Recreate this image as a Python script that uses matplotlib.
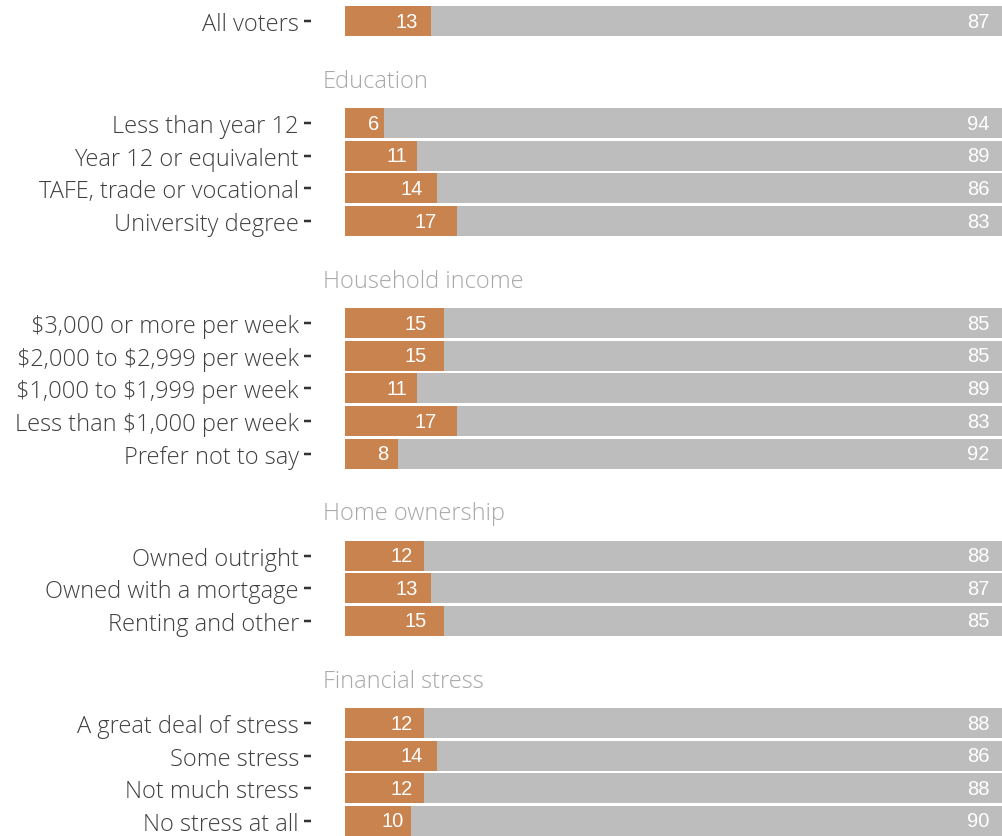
import matplotlib
matplotlib.use('Agg')
import matplotlib.pyplot as plt

# data
groups = ['', 'Education', 'Household income', 'Home ownership', 'Financial stress']
labels = [
    ['All voters'],
    ['Less than year 12', 'Year 12 or equivalent', 'TAFE, trade or vocational', 'University degree'],
    ['$3,000 or more per week', '$2,000 to $2,999 per week', '$1,000 to $1,999 per week',
     'Less than $1,000 per week', 'Prefer not to say'],
    ['Owned outright', 'Owned with a mortgage', 'Renting and other'],
    ['A great deal of stress', 'Some stress', 'Not much stress', 'No stress at all'],
]
yes_vals = [
    [13],
    [6, 11, 14, 17],
    [15, 15, 11, 17, 8],
    [12, 13, 15],
    [12, 14, 12, 10],
]
no_vals = [
    [87],
    [94, 89, 86, 83],
    [85, 85, 89, 83, 92],
    [88, 87, 85],
    [88, 86, 88, 90],
]

orange = '#C8834F'
grey = '#BDBDBD'
plt.rcParams['font.family'] = ['Open Sans', 'DejaVu Sans']
plt.rcParams['text.parse_math'] = False

fig = plt.figure(figsize=(10.03, 8.37), dpi=100)
ax = fig.add_axes([345/1003, 0, 658/1003, 1])

# row layout (in row units)
gap, head_off = 3.13, 1.83
ypos, ylab, yes, no, heads = [], [], [], [], []
y = 0
for gi, (g, labs) in enumerate(zip(groups, labels)):
    if gi > 0:
        heads.append((g, y - 1 + head_off))
        y = y - 1 + gap
    for lab, a, b in zip(labs, yes_vals[gi], no_vals[gi]):
        ypos.append(y); ylab.append(lab); yes.append(a); no.append(b)
        y += 1

h = 30/32.6
ax.barh(ypos, yes, height=h, color=orange, lw=0)
ax.barh(ypos, no, left=yes, height=h, color=grey, lw=0)
for yy, a in zip(ypos, yes):
    ax.text(a*0.72, yy, str(a), ha='center', va='center', color='white',
            fontsize=14.5, family='Liberation Sans')
for yy, b in zip(ypos, no):
    ax.text(98, yy, str(b), ha='right', va='center', color='white',
            fontsize=14.5, family='Liberation Sans')
for g, yy in heads:
    ax.text(-3.4, yy, g, ha='left', va='center', color='#A8A8A8', fontsize=17,
            fontweight='light', clip_on=False)

ax.set_xlim(0, 100)
ax.set_ylim(y - 1 + 15/32.6, -22/32.6)
for s in ax.spines.values():
    s.set_visible(False)
ax.spines['left'].set_position(('outward', 34*0.72))
ax.tick_params(axis='y', length=7*0.72, width=2.5*0.72, color='#333333', pad=5*0.72,
               labelsize=17, labelcolor='#404040')
ax.set_xticks([])
ax.set_yticks(ypos)
ax.set_yticklabels(ylab, fontweight='light')

fig.savefig('out.png', dpi=100)
